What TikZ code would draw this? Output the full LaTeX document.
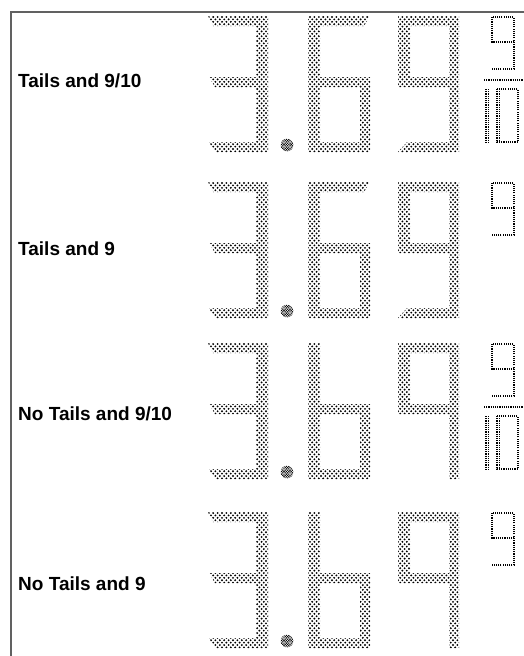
\documentclass[tikz,border=0pt]{standalone}
\usepackage{fontspec}
\setmainfont{Liberation Sans}
\tikzset{
  dotrow/.style={draw=black, line width=2.1pt, line cap=round, dash pattern=on 0pt off 4.4pt},
  pointrow/.style={draw=black, line width=1.6pt, line cap=round, dash pattern=on 0pt off 2.4pt},
  thindots/.style={draw=black, line width=1.3pt, dash pattern=on 1.1pt off 1.1pt},
  framelines/.style={draw=black!62, line width=1.5pt},
  lbl/.style={font=\fontsize{19}{23}\selectfont\bfseries, inner sep=0pt, anchor=base west}
}
\newcommand\segrow[3]{%
\begin{scope}[yshift=-#1pt]
  \begin{scope}
    \clip
      % digit 3 (one outline)
      (208,0)--(268,0)--(268,136)--(215,136)--(209,126)--(256,126)--(256,71)
        --(215,71)--(209,61)--(256,61)--(256,10)--(213,10)--cycle
      % digit 6
      \ifnum#2=1
        (308,0)--(370,0)--(364,10)--(320,10)--(320,136)--(308,136)--cycle
      \else
        (308,0)--(320,0)--(320,136)--(308,136)--cycle
      \fi
      (320,61)--(370,61)--(370,71)--(320,71)--cycle
      (360,71)--(370,71)--(370,126)--(360,126)--cycle
      (320,126)--(370,126)--(370,136)--(320,136)--cycle
      % digit 9
      (398,0)--(459,0)--(459,10)--(398,10)--cycle
      (398,10)--(410,10)--(410,61)--(398,61)--cycle
      (449,10)--(459,10)--(459,61)--(449,61)--cycle
      (398,61)--(459,61)--(459,71)--(398,71)--cycle
      (449,71)--(459,71)--(459,126)--(449,126)--cycle
      \ifnum#2=1
        (407,126)--(459,126)--(459,136)--(398,136)--cycle
      \else
        (449,126)--(459,126)--(459,136)--(449,136)--cycle
      \fi
      ;
    \foreach \k in {0,...,56}{%
      \pgfmathsetmacro\yy{2.4*\k+1}%
      \pgfmathsetmacro\ph{mod(\k,2)*2.2}%
      \draw[dotrow, dash phase=\ph pt] (200,\yy) -- (470,\yy);
    }
  \end{scope}
  % decimal point
  \begin{scope}
    \clip (287,129) circle[radius=6.3];
    \foreach \k in {0,...,10}{%
      \pgfmathsetmacro\yy{122+1.3*\k}%
      \pgfmathsetmacro\ph{mod(\k,2)*1.2}%
      \draw[pointrow, dash phase=\ph pt] (278,\yy) -- (297,\yy);
    }
  \end{scope}
  % small 9
  \draw[thindots] (492,1) rectangle (514,26);
  \draw[thindots] (514,26)--(514,53)--(492,53);
  \ifnum#3=1
    \draw[thindots] (484,64)--(523,64);
    \draw[thindots] (486,73)--(486,126);
    \draw[thindots] (488.5,73)--(488.5,126);
    \draw[thindots] (497,73) rectangle (518,126);
    \draw[thindots] (499.5,73)--(499.5,126);
  \fi
\end{scope}}
\begin{document}
\begin{tikzpicture}[x=1pt,y=-1pt]
  \useasboundingbox (0,0) rectangle (524,656);
  \fill[white] (0,0) rectangle (524,656);
  \draw[framelines] (11,656) -- (11,12) -- (524,12);
  \segrow{16}{1}{1}
  \segrow{182}{1}{0}
  \segrow{343}{0}{1}
  \segrow{512}{0}{0}
  \node[lbl] (l1) at (18,87) {Tails and 9/10};
  \node[lbl] (l2) at (18,255) {Tails and 9};
  \node[lbl] (l3) at (18,420) {No Tails and 9/10};
  \node[lbl] (l4) at (18,590) {No Tails and 9};
\end{tikzpicture}
\end{document}
